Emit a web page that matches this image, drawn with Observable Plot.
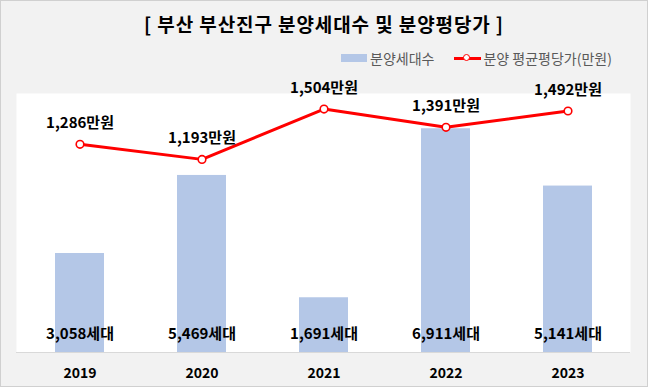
<!DOCTYPE html>
<html>
<head>
<meta charset="utf-8">
<script src="https://cdn.jsdelivr.net/npm/d3@7"></script>
<script src="https://cdn.jsdelivr.net/npm/@observablehq/plot@0.6"></script>
<style>
  html, body { margin: 0; padding: 0; background: #fff; }
  #wrap { position: relative; width: 648px; height: 387px; background: #F2F2F2; overflow: hidden;
          font-family: 'Noto Sans CJK KR', 'Noto Sans', sans-serif; }
  #border { position: absolute; left: 0; top: 0; width: 646px; height: 385px; border: 1px solid #D0D0D0; pointer-events: none; }
  #title { position: absolute; left: 0; width: 648px; top: 10px; text-align: center; font-size: 19px; font-weight: bold; color: #000; letter-spacing: 0.9px; }
  #legend { position: absolute; top: 48px; left: 341px; font-size: 14px; color: #595959; display: flex; align-items: center; white-space: nowrap; }
  .sw-bar { display: inline-block; width: 26px; height: 8px; background: #B4C7E7; margin-right: 3px; }
  .sw-line { display: inline-block; position: relative; width: 27px; height: 10px; margin-left: 20px; margin-right: 2px; }
  .sw-line::before { content: ""; position: absolute; left: 0; right: 0; top: 3.5px; height: 3px; background: #FF0000; }
  .sw-line::after { content: ""; position: absolute; left: 9px; top: 1px; width: 5px; height: 5px; border: 1.6px solid #FF0000; border-radius: 50%; background: #fff; }
  #chart { position: absolute; left: 0; top: 0; }
</style>
</head>
<body>
<div id="wrap">
  <div id="chart"></div>
  <div id="title">[ 부산 부산진구 분양세대수 및 분양평당가 ]</div>
  <div id="legend"><span class="sw-bar"></span><span>분양세대수</span><span class="sw-line"></span><span>분양 평균평당가(만원)</span></div>
  <div id="border"></div>
</div>
<script>
const years = ["2019", "2020", "2021", "2022", "2023"];
const households = [3058, 5469, 1691, 6911, 5141];
const pricePerPyeong = [1286, 1193, 1504, 1391, 1492];

const barMax = 8000;   // primary axis max
const lineMax = 1600;  // secondary axis max
const toBar = v => v * barMax / lineMax;

const data = years.map((y, i) => ({year: y, households: households[i], price: pricePerPyeong[i]}));
const fmt = d3.format(",");
const font = "'Noto Sans CJK KR', 'Noto Sans', sans-serif";

const chart = Plot.plot({
  width: 648,
  height: 387,
  marginTop: 93,
  marginBottom: 35,
  marginLeft: 16,
  marginRight: 18,
  style: {background: "transparent", fontFamily: font},
  x: {domain: years, paddingInner: 0.6, paddingOuter: 0.3, label: null},
  y: {domain: [0, barMax], axis: null},
  marks: [
    Plot.frame({fill: "white", stroke: null}),
    Plot.barY(data, {x: "year", y: "households", fill: "#B4C7E7"}),
    Plot.ruleY([0], {stroke: "#D9D9D9", strokeWidth: 1}),
    Plot.axisX({tickSize: 0, tickPadding: 16, fontSize: 14, fontWeight: "bold", fill: "#000", label: null}),
    Plot.line(data, {x: "year", y: d => toBar(d.price), stroke: "#FF0000", strokeWidth: 3, curve: "linear"}),
    Plot.dot(data, {x: "year", y: d => toBar(d.price), r: 3.8, fill: "white", stroke: "#FF0000", strokeWidth: 1.6}),
    Plot.text(data, {x: "year", y: d => toBar(d.price), text: d => fmt(d.price) + "만원", dy: -21, fontSize: 15, fontWeight: "bold", fill: "#000"}),
    Plot.text(data, {x: "year", y: 0, text: d => fmt(d.households) + "세대", dy: -18, fontSize: 15, fontWeight: "bold", fill: "#000"})
  ]
});
document.getElementById("chart").appendChild(chart);
</script>
</body>
</html>
